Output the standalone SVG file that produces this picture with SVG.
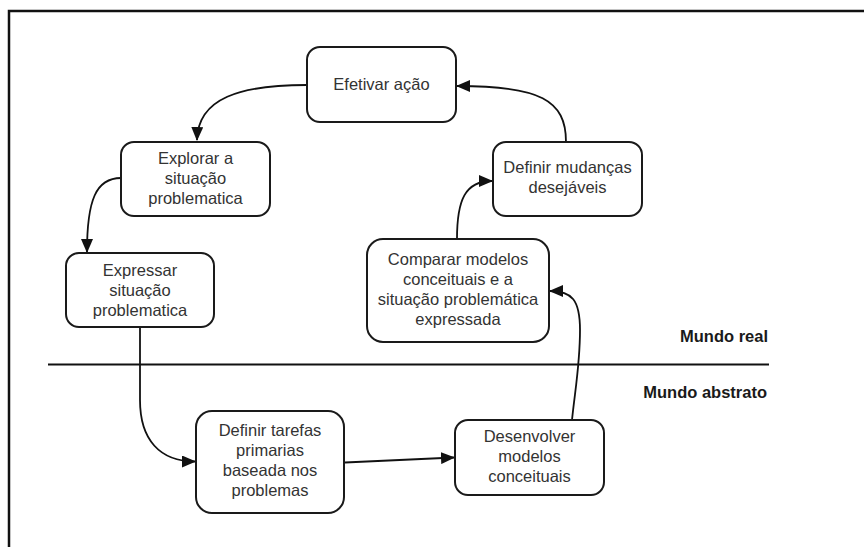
<svg xmlns="http://www.w3.org/2000/svg" width="864" height="547" viewBox="0 0 864 547">
  <style>
    .box { fill: #fff; stroke: #1a1a1a; stroke-width: 2; }
    .lbl { font-family: "Liberation Sans", Arial, sans-serif; font-size: 16.5px; fill: #333; text-anchor: middle; dominant-baseline: central; }
    .zone { font-family: "Liberation Sans", Arial, sans-serif; font-size: 16.5px; font-weight: bold; fill: #1a1a1a; text-anchor: end; dominant-baseline: central; }
    .edge { fill: none; stroke: #111; stroke-width: 1.8; marker-end: url(#arrow); }
    .plain { fill: none; stroke: #111; stroke-width: 1.8; }
  </style>
  <defs>
    <marker id="arrow" markerUnits="userSpaceOnUse" markerWidth="14" markerHeight="12" viewBox="0 0 14 12" refX="13" refY="6" orient="auto">
      <path d="M0,0 L14,6 L0,12 z" fill="#111"/>
    </marker>
  </defs>

  <rect width="864" height="547" fill="#fff"/>
  <!-- outer frame (top and left edges) -->
  <path d="M9,547 L9,11 L864,11" fill="none" stroke="#111" stroke-width="2.5"/>

  <!-- boundary between real and abstract world -->
  <line x1="48" y1="364.5" x2="769" y2="364.5" stroke="#111" stroke-width="2.2"/>
  <text class="zone" x="768" y="336">Mundo real</text>
  <text class="zone" x="767" y="392">Mundo abstrato</text>

  <g id="connectors">
    <path class="edge" d="M307,85 C240,85 198,98 197,140"/>
    <path class="edge" d="M121,178 C96,178 87,200 87,252"/>
    <path class="plain" d="M140,327 L140,400"/>
    <path class="edge" d="M140,400 C140,440 160,461.5 195,461.5"/>
    <path class="edge" d="M345,462.5 L454,457.5"/>
    <path class="edge" d="M572,420 C575,390 580,365 580,330 C580,300 572,291 550,291"/>
    <path class="edge" d="M457,239 C457,200 465,181 492,181"/>
    <path class="edge" d="M566,142 C566,100 540,86 457,86"/>
  </g>

  <g id="efetivar">
    <rect class="box" x="307" y="47" width="149" height="75" rx="13"/>
    <text class="lbl" x="381.5" y="84">Efetivar ação</text>
  </g>

  <g id="explorar">
    <rect class="box" x="121" y="142" width="149" height="74" rx="13"/>
    <text class="lbl" x="195.5" y="157.5">Explorar a</text>
    <text class="lbl" x="195.5" y="177.5">situação</text>
    <text class="lbl" x="195.5" y="197.5">problematica</text>
  </g>

  <g id="expressar">
    <rect class="box" x="66" y="253" width="148" height="74" rx="13"/>
    <text class="lbl" x="140" y="269.5">Expressar</text>
    <text class="lbl" x="140" y="289.5">situação</text>
    <text class="lbl" x="140" y="309.5">problematica</text>
  </g>

  <g id="definir-mudancas">
    <rect class="box" x="493" y="142" width="149" height="74" rx="13"/>
    <text class="lbl" x="567.5" y="167">Definir mudanças</text>
    <text class="lbl" x="567.5" y="187">desejáveis</text>
  </g>

  <g id="comparar">
    <rect class="box" x="367" y="239" width="182" height="103" rx="16"/>
    <text class="lbl" x="458" y="258.5">Comparar modelos</text>
    <text class="lbl" x="458" y="278.5">conceituais e a</text>
    <text class="lbl" x="458" y="298.5">situação problemática</text>
    <text class="lbl" x="458" y="318.5">expressada</text>
  </g>

  <g id="definir-tarefas">
    <rect class="box" x="196" y="411" width="148" height="102" rx="16"/>
    <text class="lbl" x="270" y="430">Definir tarefas</text>
    <text class="lbl" x="270" y="450">primarias</text>
    <text class="lbl" x="270" y="470">baseada nos</text>
    <text class="lbl" x="270" y="490">problemas</text>
  </g>

  <g id="desenvolver">
    <rect class="box" x="455" y="420" width="149" height="75" rx="13"/>
    <text class="lbl" x="529.5" y="436">Desenvolver</text>
    <text class="lbl" x="529.5" y="456">modelos</text>
    <text class="lbl" x="529.5" y="476">conceituais</text>
  </g>
</svg>
